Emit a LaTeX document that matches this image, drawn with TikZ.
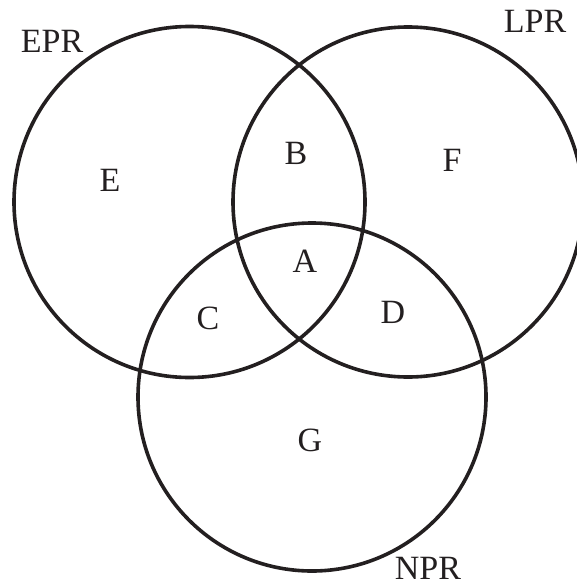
\documentclass[tikz,border=0pt]{standalone}
\usepackage{fontspec}
\setmainfont{Liberation Serif}
\definecolor{ink}{HTML}{231F20}
\tikzset{ring/.style={draw=ink,line width=3.6pt},
  lbl/.style={text=ink,inner sep=0pt,font=\fontsize{34}{40}\selectfont}}

\begin{document}
\begin{tikzpicture}[x=1pt,y=-1pt]
\useasboundingbox (0,0) rectangle (576,586);
% the three sets
\coordinate (ce) at (189.5,202);
\coordinate (cl) at (408,202);
\coordinate (cn) at (312,397);
\draw[ring] (ce) circle[radius=175.5pt];
\draw[ring] (cl) circle[radius=175pt];
\draw[ring] (cn) circle[radius=174pt];
% set names
\node[lbl] (epr) at (52,41) {EPR};
\node[lbl] (lpr) at (535,21) {LPR};
\node[lbl] (npr) at (428,568) {NPR};
% regions
\node[lbl] (e) at (110,180) {E};
\node[lbl] (b) at (296,153) {B};
\node[lbl] (f) at (452,160) {F};
\node[lbl] (a) at (305,261) {A};
\node[lbl] (c) at (208,318) {C};
\node[lbl] (d) at (393,312) {D};
\node[lbl] (g) at (310,440) {G};
\end{tikzpicture}
\end{document}
